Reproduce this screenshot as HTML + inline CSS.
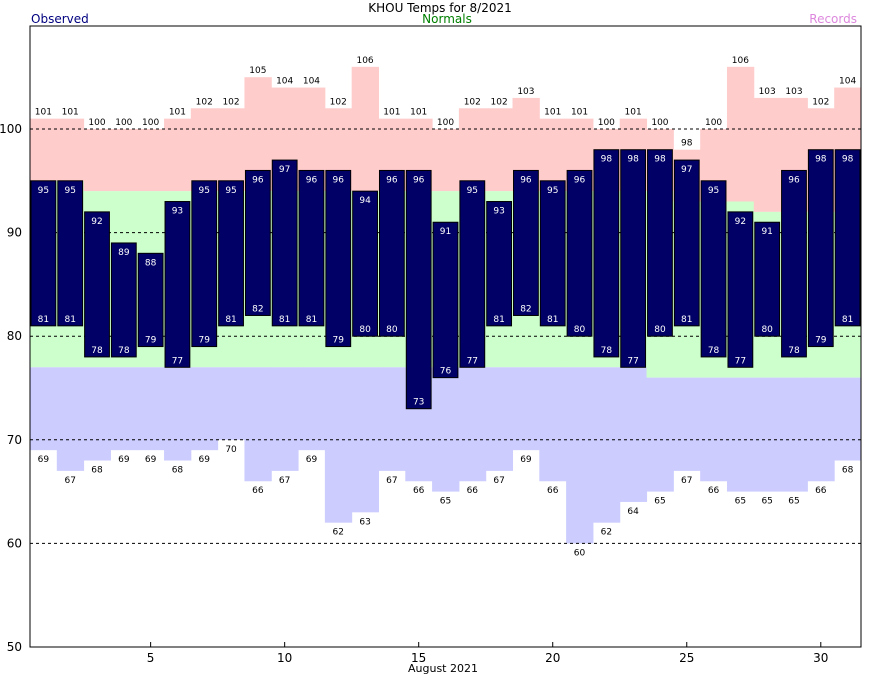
<!DOCTYPE html>
<html><head><meta charset="utf-8"><style>
body{margin:0;background:#fff;}
svg{display:block;font-family:"DejaVu Sans","Liberation Sans",sans-serif;}
</style></head><body>
<svg id="chart" width="870" height="676" viewBox="0 0 870 676">
<text x="440" y="12" font-size="12" text-anchor="middle">KHOU Temps for 8/2021</text>
<text x="31" y="23" font-size="12" fill="#000080">Observed</text>
<text x="447" y="23" font-size="12" fill="#008000" text-anchor="middle">Normals</text>
<text x="857" y="23" font-size="12" fill="#dd88dd" text-anchor="end">Records</text>
<g id="plot"></g>
<text x="443" y="672" font-size="11" text-anchor="middle">August 2021</text>
</svg>
<script>
const days=[1,2,3,4,5,6,7,8,9,10,11,12,13,14,15,16,17,18,19,20,21,22,23,24,25,26,27,28,29,30,31];
const recordHigh=[101,101,100,100,100,101,102,102,105,104,104,102,106,101,101,100,102,102,103,101,101,100,101,100,98,100,106,103,103,102,104];
const normalHigh=[95,95,94,94,94,94,94,94,94,94,94,94,94,94,94,94,94,94,94,94,94,94,94,94,93,93,93,92,92,92,92];
const obsHigh=[95,95,92,89,88,93,95,95,96,97,96,96,94,96,96,91,95,93,96,95,96,98,98,98,97,95,92,91,96,98,98];
const obsLow=[81,81,78,78,79,77,79,81,82,81,81,79,80,80,73,76,77,81,82,81,80,78,77,80,81,78,77,80,78,79,81];
const normalLow=[77,77,77,77,77,77,77,77,77,77,77,77,77,77,77,77,77,77,77,77,77,77,77,76,76,76,76,76,76,76,76];
const recordLow=[69,67,68,69,69,68,69,70,66,67,69,62,63,67,66,65,66,67,69,66,60,62,64,65,67,66,65,65,65,66,68];
const yTicks=[50,60,70,80,90,100];
const xTicks=[5,10,15,20,25,30];

const X0=30,X1=861,Y0=647,Y1=26;
const bw=(X1-X0)/days.length;
const y=v=>Y0-(v-50)*(Y0-129)/50;
const xl=d=>X0+(d-1)*bw;
const NS="http://www.w3.org/2000/svg";
const g=document.getElementById('plot');
function mk(tag,attrs,parent){const e=document.createElementNS(NS,tag);for(const k in attrs)e.setAttribute(k,attrs[k]);(parent||g).appendChild(e);return e;}

days.forEach((d,i)=>{
  const x=xl(d);
  let r=mk('rect',{x:x,y:y(recordHigh[i]),width:bw+0.5,height:y(normalHigh[i])-y(recordHigh[i]),fill:'#ffcccc'});
  
  
  r=mk('rect',{x:x,y:y(normalHigh[i]),width:bw+0.5,height:y(normalLow[i])-y(normalHigh[i]),fill:'#ccffcc'});
  
  
  r=mk('rect',{x:x,y:y(normalLow[i]),width:bw+0.5,height:y(recordLow[i])-y(normalLow[i]),fill:'#ccccff'});
  
  
});
yTicks.slice(1).forEach(v=>{
  const l=mk('line',{x1:X0,x2:X1,y1:y(v),y2:y(v),stroke:'#000','stroke-dasharray':'3,3','stroke-width':1});
  
  
});
days.forEach((d,i)=>{
  const x=xl(d),cx=x+bw/2;
  const b=mk('rect',{x:x+1,y:y(obsHigh[i]),width:bw-2,height:y(obsLow[i])-y(obsHigh[i]),fill:'#000066',stroke:'#000',"stroke-width":1});
  
  
  const t=[[recordHigh[i],y(recordHigh[i])-4,'#000','record-high-label'],[obsHigh[i],y(obsHigh[i])+12,'#fff','observed-high-label'],[obsLow[i],y(obsLow[i])-4,'#fff','observed-low-label'],[recordLow[i],y(recordLow[i])+12,'#000','record-low-label']];
  t.forEach(a=>{
    const e=mk('text',{x:cx,y:a[1],'font-size':9,'text-anchor':'middle',fill:a[2]});
    e.textContent=a[0];
    
    
  });
});
const fr=mk('rect',{x:X0,y:Y1,width:X1-X0,height:Y0-Y1,fill:'none',stroke:'#000'});


yTicks.forEach(v=>{
  const e=mk('text',{x:22,y:y(v)+4,'font-size':12,'text-anchor':'end'});
  e.textContent=v;
  
  
});
xTicks.forEach(d=>{
  const cx=xl(d)+bw/2;
  const l=mk('line',{x1:cx,x2:cx,y1:Y0,y2:Y0-5,stroke:'#000'});
  
  
  const e=mk('text',{x:cx,y:662,'font-size':12,'text-anchor':'middle'});
  e.textContent=d;
  
  
});
</script>
</body></html>
